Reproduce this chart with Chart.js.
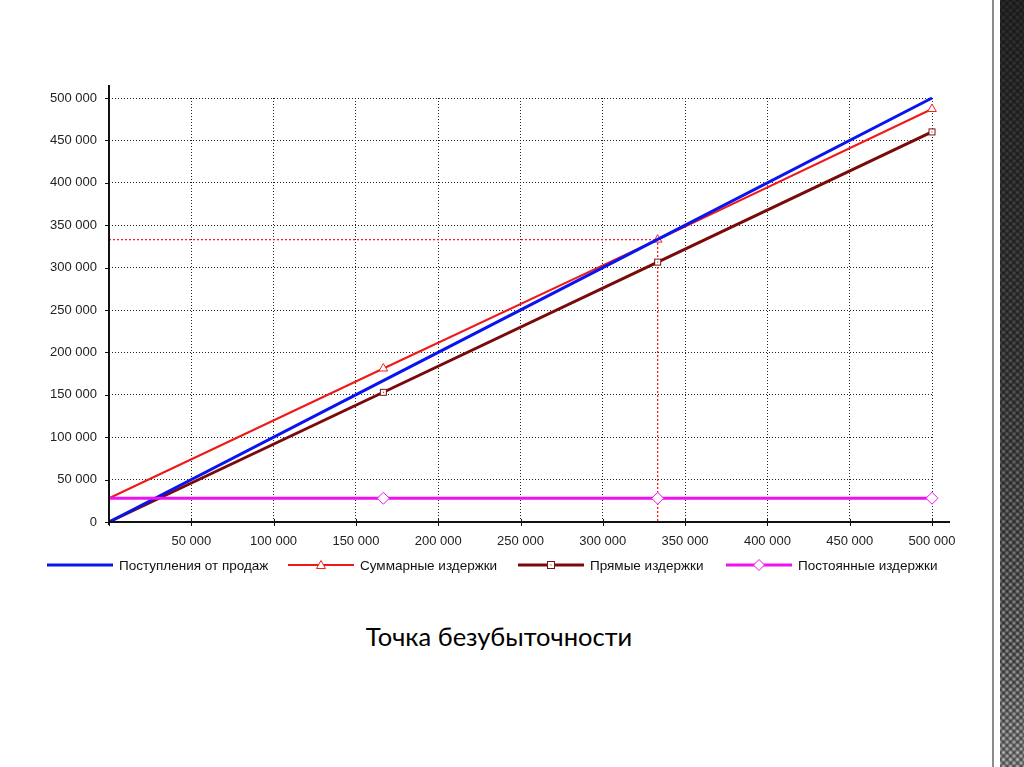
<!DOCTYPE html>
<html><head><meta charset="utf-8">
<script src="https://cdn.jsdelivr.net/npm/chart.js@4.4.1/dist/chart.umd.min.js"></script>
<style>
html,body{margin:0;padding:0;width:1024px;height:767px;overflow:hidden;background:#fff;font-family:"Liberation Sans",Arial,sans-serif;}
#wrap{position:absolute;left:0;top:0;width:990px;height:560px;}
#decoLine{position:absolute;left:992px;top:0;width:2px;height:767px;background:#8c8c8c;}
#deco{position:absolute;left:1000px;top:0;width:24px;height:767px;background-color:#333;
 background-image:linear-gradient(rgba(18,18,18,0.82), rgba(18,18,18,0.6) 45%, rgba(18,18,18,0.15) 85%, rgba(255,255,255,0.1)),
  radial-gradient(circle, #b8b8b8 0, #8a8a8a 1.3px, rgba(0,0,0,0) 2.8px),
  radial-gradient(circle, #b8b8b8 0, #8a8a8a 1.3px, rgba(0,0,0,0) 2.8px);
 background-size:100% 100%,7px 7px,7px 7px;background-position:0 0,0 0,3.5px 3.5px;}
.lg{position:absolute;top:557px;height:16px;display:flex;align-items:center;font-size:13.5px;color:#111;white-space:nowrap;}
.lg svg{margin-right:6px;}
#title{position:absolute;left:0;width:998px;top:621px;text-align:center;font-family:Lato,"Open Sans",sans-serif;font-size:25.5px;color:#000;}
</style></head>
<body>
<div id="wrap"><canvas id="c" width="990" height="560"></canvas></div>
<div id="legend"></div>
<div id="title"></div>
<div id="decoLine"></div>
<div id="deco"></div>
<script>
// ---- data ----
const xValues = [0, 166667, 333333, 500000];
const revenue = [0, 166667, 333333, 500000];
const totalCosts = [28000, 181000, 333000, 487000];
const directCosts = [0, 153000, 306500, 460000];
const fixedCosts = [28000, 28000, 28000, 28000];
const breakEvenX = 333333;
const breakEvenY = 333000;
const seriesNames = ['Поступления от продаж', 'Суммарные издержки', 'Прямые издержки', 'Постоянные издержки'];
const titleText = 'Точка безубыточности';
const axisMin = 0, axisMax = 500000, axisStep = 50000;

function fmt(v){ return String(v).replace(/\B(?=(\d{3})+(?!\d))/g, ' '); }
function pts(ys){ return xValues.map((x,i)=>({x:x, y:ys[i]})); }

// square marker with center dot
function squareMarker(){
  const c=document.createElement('canvas'); c.width=9; c.height=9;
  const g=c.getContext('2d');
  g.fillStyle='#fff'; g.fillRect(1,1,7,7);
  g.strokeStyle='#7a1010'; g.lineWidth=1; g.strokeRect(1.5,1.5,6,6);
  g.fillStyle='#7a1010'; g.fillRect(4,4,1,1);
  return c;
}
const sq = squareMarker();
const noFirst = r => [0, r, r, r];

const datasets = [
  {label:seriesNames[0], data:pts(revenue), borderColor:'#0a14f0', borderWidth:3, pointRadius:0, order:1, clip:10},
  {label:seriesNames[1], data:pts(totalCosts), borderColor:'#f01818', borderWidth:2, pointStyle:'triangle', pointRadius:noFirst(5), pointBackgroundColor:'#fff', pointBorderColor:'#f02020', pointBorderWidth:1, order:2, clip:10},
  {label:seriesNames[2], data:pts(directCosts), borderColor:'#7a0a0a', borderWidth:3, pointStyle:[ 'circle', sq, sq, sq ], pointRadius:noFirst(4), pointBackgroundColor:'#fff', pointBorderColor:'#7a1010', order:3, clip:10},
  {label:seriesNames[3], data:pts(fixedCosts), borderColor:'#f010f0', borderWidth:3, pointStyle:'rectRot', pointRadius:noFirst(6), pointBackgroundColor:'#fff', pointBorderColor:'#f010f0', pointBorderWidth:1, order:0, clip:10},
  {label:'', data:[{x:axisMin,y:breakEvenY},{x:breakEvenX,y:breakEvenY},{x:breakEvenX,y:axisMin}], borderColor:'#ff1a1a', borderWidth:1.3, borderDash:[2,2], pointRadius:0, order:5, clip:10}
];

const axesPlugin = {
  id:'axesPlug',
  afterDraw(chart){
    const {ctx, chartArea:a, scales:{x,y}} = chart;
    ctx.save();
    ctx.strokeStyle='#111'; ctx.lineWidth=2;
    ctx.beginPath(); ctx.moveTo(a.left, a.top-13); ctx.lineTo(a.left, a.bottom+3); ctx.stroke();
    ctx.beginPath(); ctx.moveTo(a.left-1, a.bottom); ctx.lineTo(a.right+18, a.bottom); ctx.stroke();
    ctx.lineWidth=1;
    for(let v=axisMin; v<=axisMax; v+=axisStep){
      const px=Math.round(x.getPixelForValue(v))+0.5;
      ctx.beginPath(); ctx.moveTo(px, a.bottom-3); ctx.lineTo(px, a.bottom+4); ctx.stroke();
      const py=Math.round(y.getPixelForValue(v))+0.5;
      ctx.beginPath(); ctx.moveTo(a.left-4, py); ctx.lineTo(a.left, py); ctx.stroke();
    }
    ctx.restore();
  }
};

const tickFont = {family:'"Liberation Sans", Arial, sans-serif', size:13};
new Chart(document.getElementById('c'), {
  type:'line',
  data:{datasets},
  options:{
    responsive:false, animation:false, devicePixelRatio:1,
    layout:{padding:{top:98, right:58, left:0, bottom:0}},
    plugins:{legend:{display:false}, tooltip:{enabled:false}},
    elements:{line:{tension:0}},
    scales:{
      x:{type:'linear', min:axisMin, max:axisMax,
        ticks:{stepSize:axisStep, font:tickFont, color:'#222', padding:12, maxRotation:0, autoSkip:false, callback:v=> v===0?'':fmt(v)},
        grid:{color:'#222', drawTicks:false, lineWidth:1},
        border:{display:false, dash:[1,2]},
        afterFit(s){ s.height=38; }
      },
      y:{min:axisMin, max:axisMax,
        ticks:{stepSize:axisStep, font:tickFont, color:'#222', padding:12, callback:v=>fmt(v)},
        grid:{color:'#222', drawTicks:false, lineWidth:1},
        border:{display:false, dash:[1,2]},
        afterFit(s){ s.width=109; }
      }
    }
  },
  plugins:[axesPlugin]
});

// ---- legend ----
const legendPos = [47, 288, 518, 726];
const legendColors = ['#0a14f0','#f01818','#7a0a0a','#f010f0'];
const legendWidths = [3,2,3,3];
const markers = [
  '',
  '<polygon points="33,1.5 37.5,9.5 28.5,9.5" fill="#fff" stroke="#f02020" stroke-width="1"/>',
  '<rect x="29.5" y="2.5" width="7" height="7" fill="#fff" stroke="#7a1010" stroke-width="1"/><rect x="32.5" y="5.5" width="1" height="1" fill="#7a1010"/>',
  '<polygon points="33,0.5 38.5,6 33,11.5 27.5,6" fill="#fff" stroke="#f010f0" stroke-width="1"/>'
];
const lg=document.getElementById('legend');
seriesNames.forEach((n,i)=>{
  const d=document.createElement('div'); d.className='lg'; d.style.left=legendPos[i]+'px';
  d.innerHTML='<svg width="66" height="12"><line x1="0" y1="6" x2="66" y2="6" stroke="'+legendColors[i]+'" stroke-width="'+legendWidths[i]+'"/>'+markers[i]+'</svg><span>'+n+'</span>';
  lg.appendChild(d);
});
document.getElementById('title').textContent = titleText;
</script>
</body></html>
